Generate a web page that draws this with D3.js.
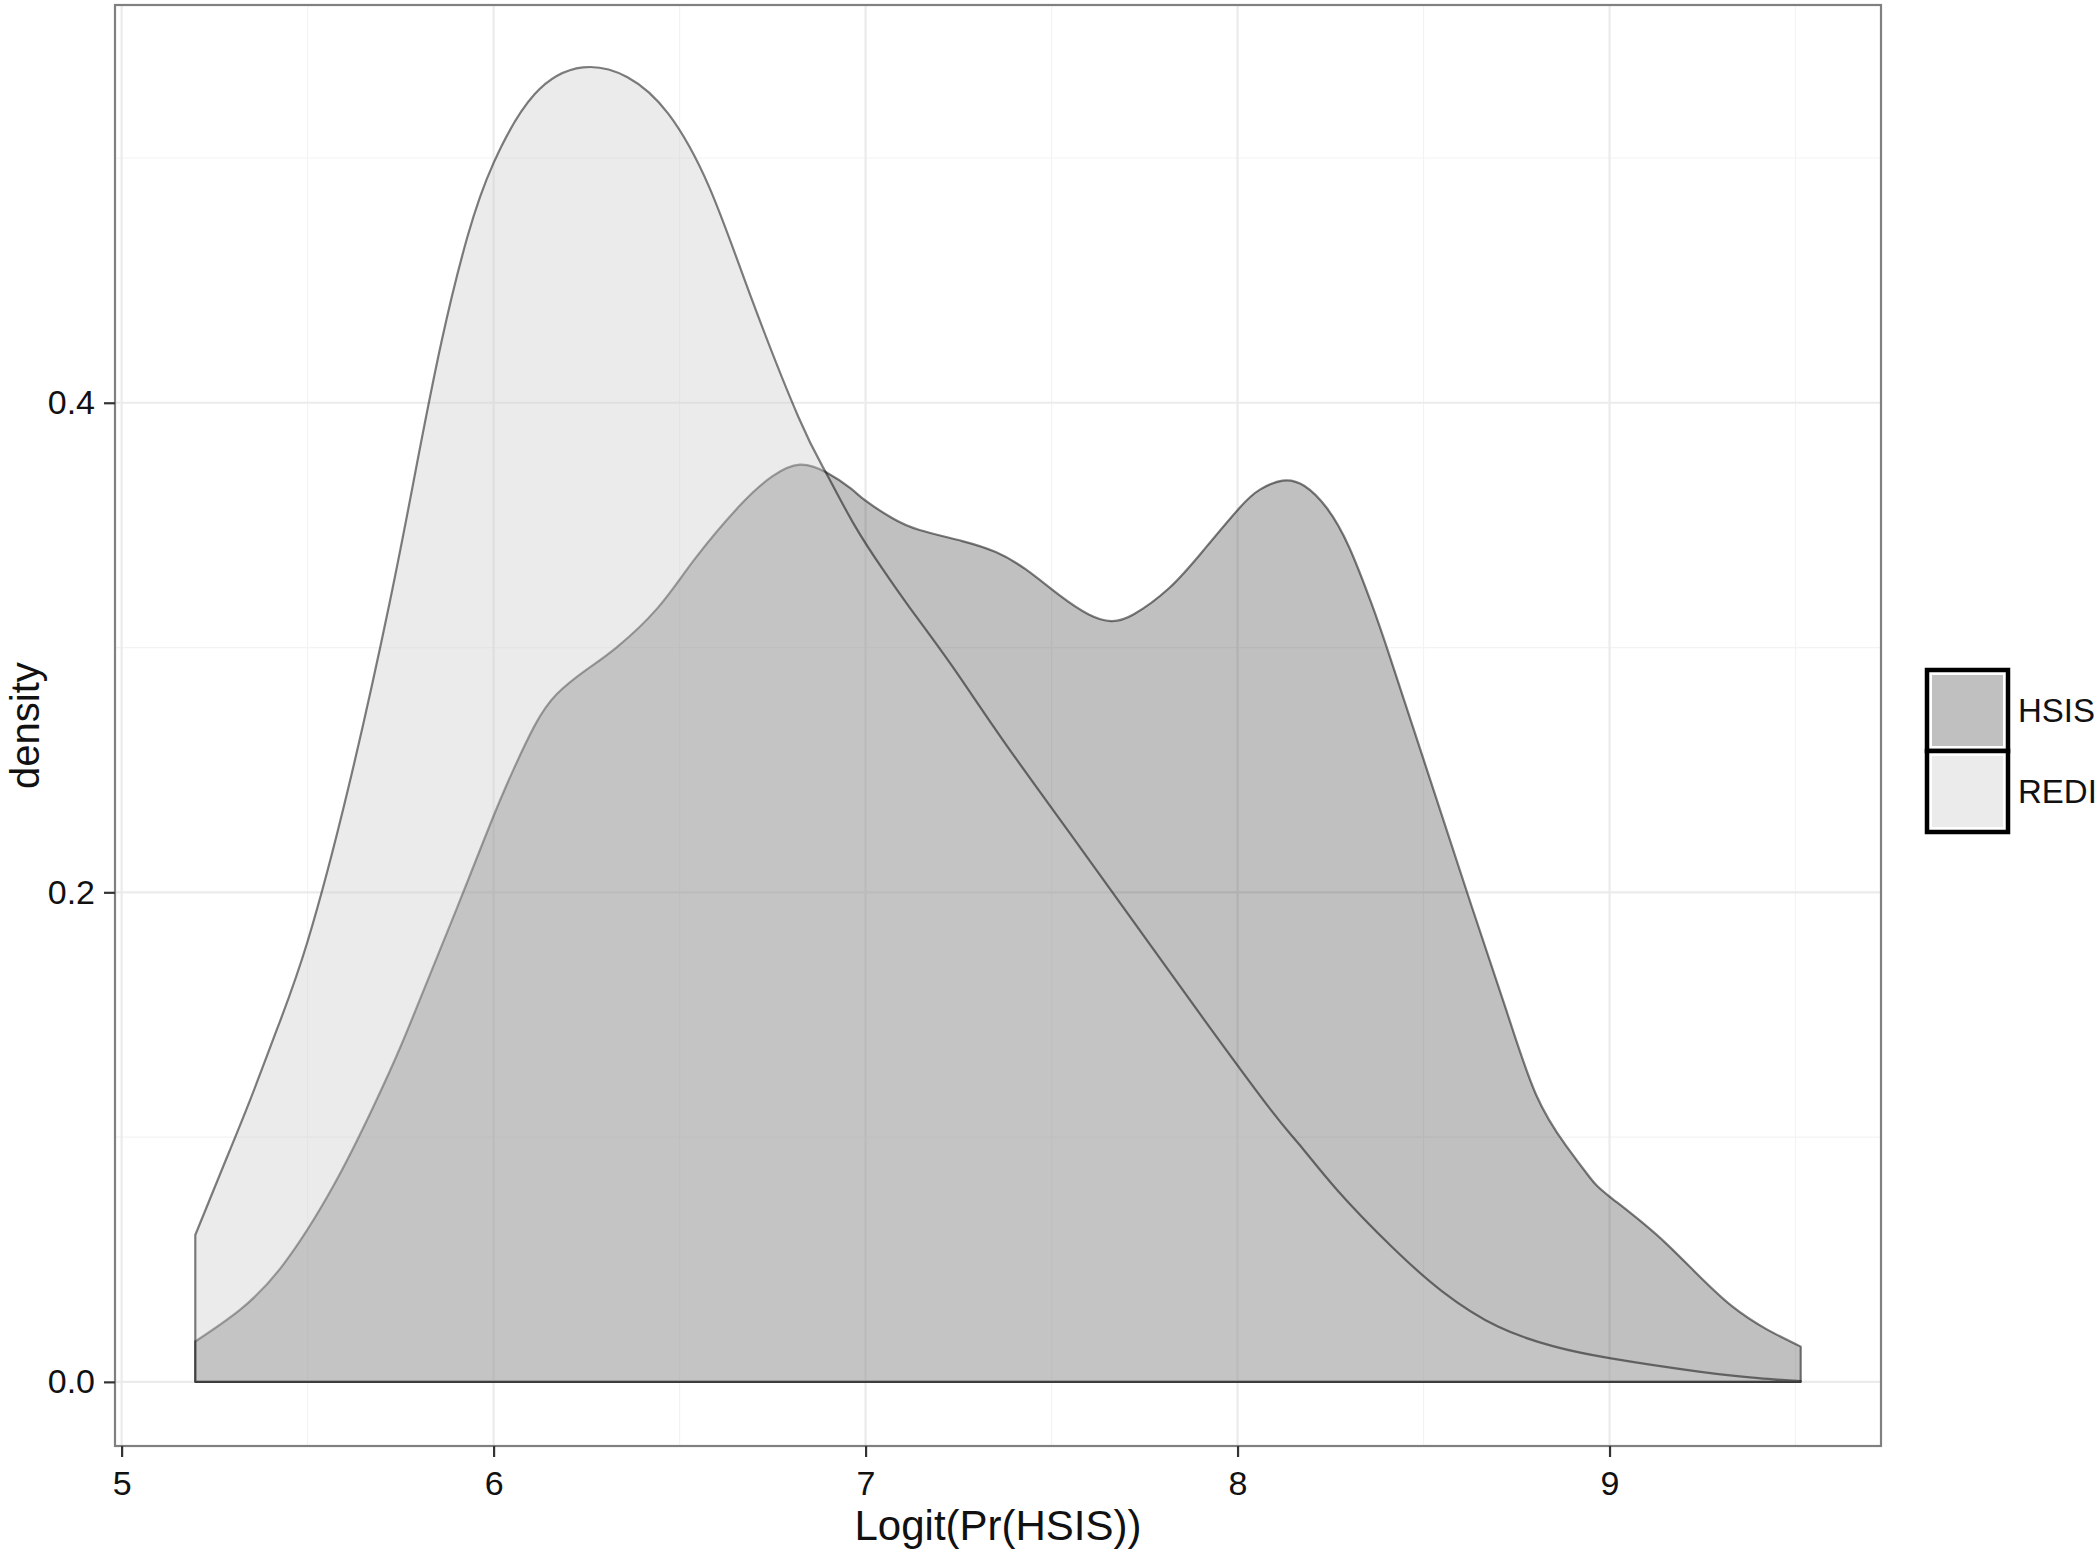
<!DOCTYPE html>
<html>
<head>
<meta charset="utf-8">
<script src="https://cdn.jsdelivr.net/npm/d3@7"></script>
<style>
  html, body { margin: 0; padding: 0; background: #fff; }
  svg { display: block; font-family: "Liberation Sans", Arial, sans-serif; }
</style>
</head>
<body>
<div id="chart"></div>
<script>
// density estimates (x = logit, y = density)
const hsisX = [5.198, 5.318, 5.435, 5.569, 5.677, 5.75, 5.82, 5.90, 5.99, 6.05, 6.11, 6.17, 6.25, 6.33, 6.44, 6.54,
  6.662, 6.75, 6.823, 6.895, 6.96, 7.0, 7.07, 7.145, 7.26, 7.35, 7.43, 7.52, 7.60, 7.66, 7.72, 7.817, 7.91, 8.005,
  8.06, 8.121, 8.18, 8.24, 8.30, 8.36, 8.41, 8.52, 8.63, 8.72, 8.802, 8.883, 8.945, 9.0, 9.151, 9.33, 9.514];
const hsisY = [0.0165, 0.0294, 0.048, 0.080, 0.1125, 0.137, 0.163, 0.193, 0.2275, 0.249, 0.268, 0.281, 0.291, 0.300, 0.316, 0.336,
  0.358, 0.370, 0.3747, 0.3715, 0.365, 0.360, 0.353, 0.348, 0.3435, 0.339, 0.332, 0.3215, 0.3135, 0.3108, 0.3135, 0.3244, 0.340, 0.357,
  0.3645, 0.3682, 0.366, 0.357, 0.341, 0.318, 0.296, 0.245, 0.194, 0.153, 0.1175, 0.0965, 0.0839, 0.0757, 0.0567, 0.0308, 0.0144];

const rediX = [5.198, 5.273, 5.345, 5.42, 5.50, 5.61, 5.72, 5.79, 5.86, 5.93, 6.0, 6.11, 6.24, 6.36, 6.47, 6.58,
  6.69, 6.82, 6.895, 6.97, 7.046, 7.12, 7.23, 7.37, 7.55, 7.73, 7.91, 8.09, 8.166, 8.27, 8.416, 8.55, 8.70, 8.85,
  9.0, 9.24, 9.40, 9.514];
const rediY = [0.060, 0.088, 0.115, 0.145, 0.180, 0.243, 0.318, 0.372, 0.425, 0.468, 0.498, 0.526, 0.537, 0.533, 0.518, 0.488,
  0.444, 0.394, 0.371, 0.350, 0.332, 0.316, 0.293, 0.262, 0.224, 0.186, 0.148, 0.111, 0.097, 0.078, 0.055, 0.037, 0.0226, 0.0145,
  0.0097, 0.0042, 0.0015, 0.0003];

const groups = ["HSIS", "REDI"];
const xTicks = [5, 6, 7, 8, 9];
const yTicks = [0.0, 0.2, 0.4];

const width = 2100, height = 1552;
const panel = {left: 115, right: 1881, top: 5, bottom: 1446};

// ggplot-like 5% expansion of the data range
const xAll = hsisX.concat(rediX);
const xMin = d3.min(xAll), xMax = d3.max(xAll);
const xPad = (xMax - xMin) * 0.05;
const yMax = 0.5625 / 1.05;
const yPad = yMax * 0.05;

const x = d3.scaleLinear().domain([xMin - xPad, xMax + xPad]).range([panel.left, panel.right]);
const y = d3.scaleLinear().domain([-0.0262, yMax + yPad]).range([panel.bottom, panel.top]);

const svg = d3.select("#chart").append("svg")
  .attr("width", width)
  .attr("height", height);

// grid
const grid = svg.append("g");
const xMinor = d3.range(4.5, 10, 1).filter(v => v > x.domain()[0] && v < x.domain()[1]);
const yMinor = [0.1, 0.3, 0.5];

grid.selectAll(".xminor").data(xMinor).enter().append("line")
  .attr("x1", d => x(d)).attr("x2", d => x(d))
  .attr("y1", panel.top).attr("y2", panel.bottom)
  .attr("stroke", "#f3f3f3").attr("stroke-width", 1.2);
grid.selectAll(".yminor").data(yMinor).enter().append("line")
  .attr("x1", panel.left).attr("x2", panel.right)
  .attr("y1", d => y(d)).attr("y2", d => y(d))
  .attr("stroke", "#f3f3f3").attr("stroke-width", 1.2);
grid.selectAll(".xmajor").data(xTicks).enter().append("line")
  .attr("x1", d => x(d)).attr("x2", d => x(d))
  .attr("y1", panel.top).attr("y2", panel.bottom)
  .attr("stroke", "#ebebeb").attr("stroke-width", 2.2);
grid.selectAll(".ymajor").data(yTicks).enter().append("line")
  .attr("x1", panel.left).attr("x2", panel.right)
  .attr("y1", d => y(d)).attr("y2", d => y(d))
  .attr("stroke", "#ebebeb").attr("stroke-width", 2.2);

// densities
const series = [
  {name: "HSIS", xs: hsisX, ys: hsisY, fill: "#333333", alpha: 0.31},
  {name: "REDI", xs: rediX, ys: rediY, fill: "#cccccc", alpha: 0.39}
];

const area = d3.area()
  .x(d => x(d[0]))
  .y0(y(0))
  .y1(d => y(d[1]))
  .curve(d3.curveNatural);

series.forEach(s => {
  const pts = s.xs.map((v, i) => [v, s.ys[i]]);
  svg.append("path")
    .datum(pts)
    .attr("d", area)
    .attr("fill", s.fill)
    .attr("fill-opacity", s.alpha)
    .attr("stroke", "#000")
    .attr("stroke-opacity", 0.5)
    .attr("stroke-width", 2.2)
    .attr("stroke-linejoin", "round");
});

// panel border
svg.append("rect")
  .attr("x", panel.left).attr("y", panel.top)
  .attr("width", panel.right - panel.left)
  .attr("height", panel.bottom - panel.top)
  .attr("fill", "none")
  .attr("stroke", "#808080")
  .attr("stroke-width", 2.2);

// axes
const xAxis = svg.append("g").attr("transform", `translate(0,${panel.bottom})`)
  .call(d3.axisBottom(x).tickValues(xTicks).tickFormat(d3.format("d")).tickSize(11).tickPadding(14));
const yAxis = svg.append("g").attr("transform", `translate(${panel.left},0)`)
  .call(d3.axisLeft(y).tickValues(yTicks).tickFormat(d3.format(".1f")).tickSize(11).tickPadding(9));

[xAxis, yAxis].forEach(a => {
  a.select(".domain").remove();
  a.selectAll(".tick line").attr("stroke", "#333").attr("stroke-width", 2.2);
  a.selectAll(".tick text")
    .attr("fill", "#111")
    .style("font-size", "34px")
    .style("font-family", "'Liberation Sans', Arial, sans-serif");
});

// axis titles
svg.append("text")
  .attr("x", (panel.left + panel.right) / 2)
  .attr("y", 1540)
  .attr("text-anchor", "middle")
  .attr("fill", "#111")
  .style("font-size", "42px")
  .text("Logit(Pr(HSIS))");

svg.append("text")
  .attr("transform", `translate(39,${(panel.top + panel.bottom) / 2}) rotate(-90)`)
  .attr("text-anchor", "middle")
  .attr("fill", "#111")
  .style("font-size", "40px")
  .text("density");

// legend
const keySize = 81, keyX = 1927, keyY = 670;
const legend = svg.append("g");
series.forEach((s, i) => {
  const g = legend.append("g").attr("transform", `translate(${keyX},${keyY + i * keySize})`);
  g.append("rect")
    .attr("width", keySize).attr("height", keySize)
    .attr("fill", "#fff");
  g.append("rect")
    .attr("x", 5).attr("y", 5)
    .attr("width", keySize - 10).attr("height", keySize - 10)
    .attr("fill", s.fill).attr("fill-opacity", s.alpha);
  g.append("rect")
    .attr("width", keySize).attr("height", keySize)
    .attr("fill", "none")
    .attr("stroke", "#000")
    .attr("stroke-width", 4.5);
  g.append("text")
    .attr("x", keySize + 10)
    .attr("y", keySize / 2)
    .attr("dy", "0.36em")
    .attr("fill", "#111")
    .style("font-size", "33px")
    .text(groups[i]);
});
</script>
</body>
</html>
